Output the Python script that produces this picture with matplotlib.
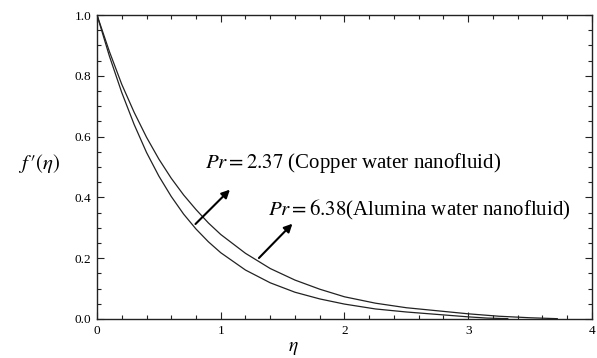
import matplotlib
matplotlib.use("Agg")
import matplotlib.pyplot as plt
from matplotlib.ticker import MultipleLocator

plt.rcParams['font.family'] = ['Liberation Serif', 'DejaVu Serif']
plt.rcParams['mathtext.fontset'] = 'stix'

# values
eta_a = [0, 0.1, 0.2, 0.3, 0.4, 0.5, 0.6, 0.7, 0.8, 0.9, 1.0, 1.2, 1.4, 1.6,
         1.8, 2.0, 2.25, 2.5, 2.75, 3.0, 3.15, 3.32]
fp_a = [1.0, 0.865, 0.745, 0.640, 0.548, 0.470, 0.403, 0.345, 0.296, 0.254,
        0.218, 0.161, 0.119, 0.088, 0.066, 0.049, 0.033, 0.023, 0.015, 0.007,
        0.003, 0.001]

eta_b = [0, 0.1, 0.2, 0.3, 0.4, 0.5, 0.6, 0.7, 0.8, 0.9, 1.0, 1.2, 1.4, 1.6,
         1.8, 2.0, 2.25, 2.5, 2.75, 3.0, 3.25, 3.5, 3.72]
fp_b = [1.0, 0.880, 0.772, 0.680, 0.598, 0.526, 0.463, 0.408, 0.360, 0.316,
        0.278, 0.216, 0.166, 0.128, 0.098, 0.073, 0.052, 0.037, 0.027, 0.017,
        0.009, 0.004, 0.001]

label_a = r'$Pr = 2.37$ (Copper water nanofluid)'
label_b = r'$Pr = 6.38$(Alumina water nanofluid)'

fig = plt.figure(figsize=(5.97, 3.58), dpi=100)
ax = fig.add_axes([0.1625, 0.109, 0.829, 0.849])

ax.plot(eta_a, fp_a, color='#222222', lw=0.9)
ax.plot(eta_b, fp_b, color='#222222', lw=0.9)

ax.set_xlim(0, 4)
ax.set_ylim(0, 1.0)
ax.xaxis.set_major_locator(MultipleLocator(1))
ax.xaxis.set_minor_locator(MultipleLocator(0.2))
ax.yaxis.set_major_locator(MultipleLocator(0.2))
ax.yaxis.set_minor_locator(MultipleLocator(0.05))
ax.xaxis.set_major_formatter(plt.FuncFormatter(lambda v, p: f'{v:.0f}'))
ax.yaxis.set_major_formatter(plt.FuncFormatter(lambda v, p: f'{v:.1f}'))
ax.tick_params(which='both', direction='in', top=True, right=True,
               labelsize=9.5, pad=4, width=0.8, color='#222222')
ax.tick_params(which='major', length=5)
ax.tick_params(which='minor', length=3)
for s in ax.spines.values():
    s.set_linewidth(1.0)
    s.set_color('#222222')

ax.set_xlabel(r'$\eta$', fontsize=14)
ax.xaxis.set_label_coords(0.397, -0.07)
ax.set_ylabel(r"$f\,\prime(\eta)$", fontsize=15, rotation=0)
ax.yaxis.set_label_coords(-0.118, 0.475)

arrow = dict(arrowstyle='-|>', color='black', lw=1.5, mutation_scale=12)
ax.annotate('', xy=(1.09, 0.432), xytext=(0.78, 0.306), arrowprops=arrow)
ax.annotate('', xy=(1.595, 0.32), xytext=(1.293, 0.194), arrowprops=arrow)

ax.text(0.875, 0.497, label_a, fontsize=15, va='baseline')
ax.text(1.385, 0.342, label_b, fontsize=15, va='baseline')

fig.savefig('out.png', dpi=100)
